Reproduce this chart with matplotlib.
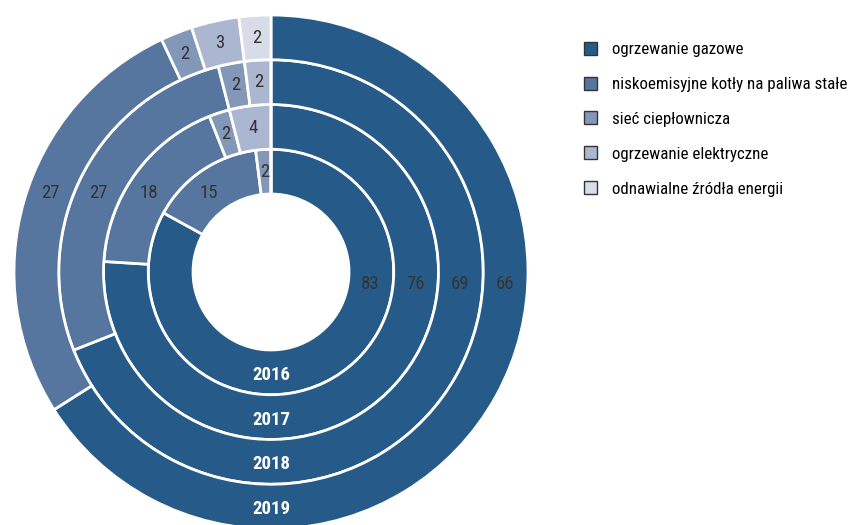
import matplotlib.pyplot as plt
import numpy as np
from matplotlib import font_manager

names = {f.name for f in font_manager.fontManager.ttflist}
font = 'DejaVu Sans'
for cand in ['Roboto Condensed', 'Open Sans Condensed', 'Archivo Narrow', 'Asap Condensed']:
    if cand in names:
        font = cand
        break
plt.rcParams['font.family'] = [font, 'DejaVu Sans']

# dane
labels = ["ogrzewanie gazowe", "niskoemisyjne kotły na paliwa stałe", "sieć ciepłownicza",
          "ogrzewanie elektryczne", "odnawialne źródła energii"]
years = ["2016", "2017", "2018", "2019"]
v2016 = [83, 15, 2, 0, 0]
v2017 = [76, 18, 2, 4, 0]
v2018 = [69, 27, 2, 2, 0]
v2019 = [66, 27, 2, 3, 2]
rings = [v2016, v2017, v2018, v2019]

colors = ['#265a88', '#56769f', '#8397b9', '#abb7d1', '#d8dce9']

fig = plt.figure(figsize=(8.51, 5.25), dpi=100)
ax = fig.add_axes([14 / 851, -4 / 525, 514 / 851, 514 / 525])

r_in = 78 / 257
w = (1 - r_in) / 4
handles = None
for i, vals in enumerate(rings):
    r = r_in + (i + 1) * w
    wedges, _ = ax.pie(vals, radius=r, startangle=90, counterclock=False, colors=colors,
                       wedgeprops=dict(width=w, edgecolor='white', linewidth=2))
    if i == 3:
        handles = wedges
    rm = r - w / 2
    # etykiety wartości
    start = 90
    for j, v in enumerate(vals):
        if v == 0:
            continue
        if j == 0:
            y = -0.047
            x = np.sqrt(rm ** 2 - y ** 2)
        elif j == 1:
            y = 0.307
            x = -np.sqrt(rm ** 2 - y ** 2)
        else:
            ang = np.deg2rad(start - v * 3.6 / 2)
            x, y = rm * np.cos(ang), rm * np.sin(ang)
        ax.text(x, y, str(v), ha='center', va='center', fontsize=13.5, color='#333333')
        start -= v * 3.6
    ax.text(0, -rm - 0.01, years[i], ha='center', va='center', fontsize=13.5,
            fontweight='bold', color='white')

ax.set_xlim(-1, 1)
ax.set_ylim(-1, 1)
ax.set_aspect('equal')
ax.axis('off')

fig.legend(handles, labels, loc='upper left', bbox_to_anchor=(577 / 851, 1 - 35 / 525),
           frameon=False, fontsize=12.2, handlelength=0.8, handleheight=0.8,
           labelspacing=1.15, handletextpad=0.85, borderaxespad=0)
for h in fig.legends[0].legend_handles:
    h.set_edgecolor('#333333')
    h.set_linewidth(1)

fig.savefig('out.png', dpi=100)
